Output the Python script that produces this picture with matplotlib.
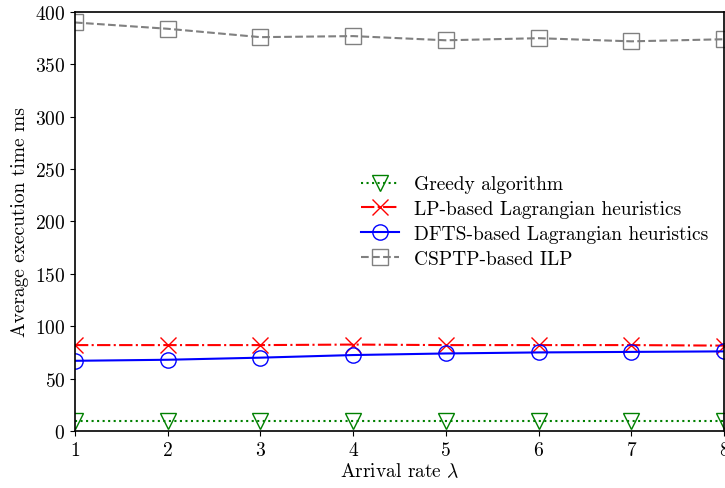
import matplotlib
matplotlib.use("Agg")
import matplotlib.pyplot as plt

plt.rcParams["font.family"] = "serif"
plt.rcParams["font.serif"] = ["cmr10"]
plt.rcParams["mathtext.fontset"] = "cm"
plt.rcParams["axes.formatter.use_mathtext"] = True
plt.rcParams["font.size"] = 14

arrival = [1, 2, 3, 4, 5, 6, 7, 8]
greedy = [10, 10, 10, 10, 10, 10, 10, 10]
lp_lagr = [82, 82, 82, 82.5, 82, 82, 82, 81.5]
dfts_lagr = [67, 68, 70, 72.5, 74, 75, 75.5, 76]
csptp_ilp = [390, 384, 376, 377, 373, 375, 372, 374]

fig = plt.figure(figsize=(7.25, 4.89), dpi=100)
ax = fig.add_axes([0.1034, 0.1166, 0.8952, 0.8568])

ax.plot(arrival, greedy, ":", color="green", marker="v", markersize=11,
        markerfacecolor="none", mew=1.0, lw=1.5, label="Greedy algorithm")
ax.plot(arrival, lp_lagr, "-.", color="red", marker="x", markersize=12,
        mew=1.0, lw=1.5, label="LP-based Lagrangian heuristics")
ax.plot(arrival, dfts_lagr, "-", color="blue", marker="o", markersize=11,
        markerfacecolor="none", mew=1.0, lw=1.5,
        label="DFTS-based Lagrangian heuristics")
ax.plot(arrival, csptp_ilp, "--", color="gray", marker="s", markersize=11,
        markerfacecolor="none", mew=1.0, lw=1.5, label="CSPTP-based ILP")

ax.set_xlim(1, 8)
ax.set_ylim(0, 400)
ax.set_xticks(arrival)
ax.set_xlabel(r"Arrival rate $\lambda$", labelpad=2)
ax.set_ylabel("Average execution time ms", labelpad=4)
ax.legend(loc="center left", bbox_to_anchor=(0.425, 0.50), frameon=False,
          borderpad=0, handlelength=2.0, handletextpad=0.75, labelspacing=0.35)

for sp in ax.spines.values():
    sp.set_linewidth(1.2)

fig.savefig("out.png", dpi=100)
